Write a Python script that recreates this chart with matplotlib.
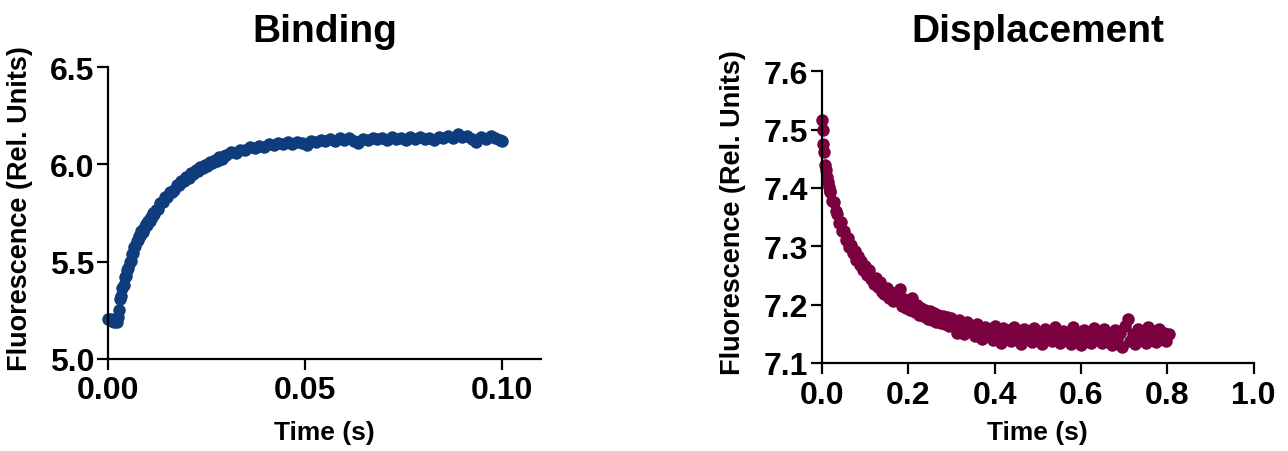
import numpy as np
import matplotlib
matplotlib.use("Agg")
import matplotlib.pyplot as plt

plt.rcParams['font.family'] = ['Liberation Sans', 'DejaVu Sans']
plt.rcParams['font.weight'] = 'bold'

# Binding trace (time in ms, fluorescence in rel. units)
bind_t_ms = [
    0.0, 0.3, 0.6, 0.9, 1.2, 1.5, 1.8, 2.1, 2.4, 2.7,
    3.0, 3.3, 3.6, 3.9, 4.2, 4.5, 4.8, 5.1, 5.4, 5.7,
    6.0, 6.3, 6.6, 6.9, 7.2, 7.5, 7.8, 8.1, 8.4, 8.7,
    9.0, 9.3, 9.6, 9.9, 10.2, 10.5, 10.8, 11.1, 11.4, 11.7,
    12.0, 12.6, 13.2, 13.8, 14.4, 15.0, 15.6, 16.2, 16.8, 17.4,
    18.0, 18.6, 19.2, 19.8, 20.4, 21.0, 21.6, 22.2, 22.8, 23.4,
    24.0, 24.6, 25.2, 25.8, 26.4, 27.0, 27.6, 28.2, 28.8, 29.4,
    30.0, 31.2, 32.4, 33.6, 34.8, 36.0, 37.2, 38.4, 39.6, 40.8,
    42.0, 43.2, 44.4, 45.6, 46.8, 48.0, 49.2, 50.4, 51.6, 52.8,
    54.0, 55.2, 56.4, 57.6, 58.8, 60.0, 61.2, 62.4, 63.6, 64.8,
    66.0, 67.2, 68.4, 69.6, 70.8, 72.0, 73.2, 74.4, 75.6, 76.8,
    78.0, 79.2, 80.4, 81.6, 82.8, 84.0, 85.2, 86.4, 87.6, 88.8,
    90.0, 91.2, 92.4, 93.6, 94.8, 96.0, 97.2, 98.4, 99.6, 100.0,
]
bind_f = [
    5.203, 5.198, 5.205, 5.196, 5.201, 5.190, 5.199, 5.186, 5.212, 5.248,
    5.305, 5.322, 5.366, 5.380, 5.418, 5.424, 5.458, 5.466, 5.497, 5.505,
    5.538, 5.546, 5.574, 5.581, 5.607, 5.609, 5.630, 5.632, 5.655, 5.651,
    5.672, 5.676, 5.694, 5.690, 5.711, 5.710, 5.731, 5.727, 5.749, 5.745,
    5.765, 5.771, 5.801, 5.805, 5.830, 5.832, 5.860, 5.858, 5.870, 5.895,
    5.893, 5.917, 5.915, 5.936, 5.932, 5.954, 5.950, 5.970, 5.966, 5.987,
    5.983, 5.998, 5.990, 6.014, 6.009, 6.024, 6.018, 6.036, 6.030, 6.045,
    6.050, 6.066, 6.060, 6.075, 6.072, 6.088, 6.084, 6.097, 6.092, 6.104,
    6.098, 6.110, 6.104, 6.114, 6.107, 6.118, 6.110, 6.102, 6.121, 6.116,
    6.128, 6.119, 6.131, 6.122, 6.134, 6.125, 6.136, 6.120, 6.112, 6.133,
    6.127, 6.138, 6.129, 6.135, 6.126, 6.140, 6.131, 6.137, 6.125, 6.139,
    6.130, 6.142, 6.133, 6.138, 6.127, 6.141, 6.134, 6.146, 6.138, 6.158,
    6.140, 6.147, 6.131, 6.118, 6.140, 6.133, 6.146, 6.137, 6.128, 6.120,
]

# Displacement trace (time in ms, fluorescence in rel. units)
disp_t_ms = [
    0, 2, 4, 6, 8, 10, 12, 14, 16, 18,
    20, 24, 28, 32, 36, 40, 44, 48, 52, 56,
    60, 64, 68, 72, 76, 80, 84, 88, 92, 96,
    100, 105, 110, 115, 120, 125, 130, 135, 140, 145,
    150, 155, 160, 165, 170, 175, 180, 185, 190, 195,
    200, 205, 210, 215, 220, 225, 230, 235, 240, 245,
    250, 255, 260, 265, 270, 275, 280, 285, 290, 295, 300,
    306, 312, 318, 324, 330, 336, 342, 348, 354, 360,
    366, 372, 378, 384, 390, 396, 402, 408, 414, 420,
    426, 432, 438, 444, 450, 456, 462, 468, 474, 480,
    486, 492, 498, 504, 510, 516, 522, 528, 534, 540,
    546, 552, 558, 564, 570, 576, 582, 588, 594, 600,
    606, 612, 618, 624, 630, 636, 642, 648, 654, 660,
    666, 672, 678, 684, 690, 696, 702, 708, 714, 720,
    726, 732, 738, 744, 750, 756, 762, 768, 774, 780,
    786, 792, 798, 804,
]
disp_f = [
    7.516, 7.500, 7.476, 7.462, 7.440, 7.431, 7.418, 7.410, 7.402, 7.393,
    7.394, 7.378, 7.376, 7.360, 7.356, 7.340, 7.341, 7.326, 7.327, 7.311,
    7.315, 7.298, 7.303, 7.288, 7.292, 7.276, 7.284, 7.268, 7.275, 7.259,
    7.266, 7.251, 7.259, 7.244, 7.236, 7.245, 7.230, 7.238, 7.222, 7.219,
    7.229, 7.212, 7.222, 7.207, 7.215, 7.219, 7.226, 7.198, 7.209, 7.194,
    7.205, 7.190, 7.212, 7.188, 7.199, 7.183, 7.195, 7.180, 7.191, 7.176,
    7.189, 7.174, 7.186, 7.170, 7.183, 7.168, 7.181, 7.166, 7.178, 7.164, 7.177,
    7.168, 7.152, 7.174, 7.160, 7.149, 7.170, 7.156, 7.163, 7.146, 7.166,
    7.152, 7.141, 7.162, 7.150, 7.158, 7.139, 7.163, 7.147, 7.135, 7.160,
    7.149, 7.156, 7.137, 7.162, 7.145, 7.152, 7.133, 7.158, 7.143, 7.150,
    7.136, 7.160, 7.142, 7.151, 7.132, 7.159, 7.144, 7.153, 7.137, 7.162,
    7.146, 7.134, 7.155, 7.141, 7.149, 7.133, 7.161, 7.143, 7.152, 7.131,
    7.157, 7.140, 7.148, 7.135, 7.160, 7.142, 7.150, 7.134, 7.158, 7.139,
    7.147, 7.130, 7.156, 7.141, 7.151, 7.128, 7.163, 7.176, 7.137, 7.149,
    7.133, 7.158, 7.140, 7.150, 7.134, 7.161, 7.139, 7.154, 7.136, 7.159,
    7.142, 7.152, 7.138, 7.150,
]

bind_xticks = [0.00, 0.05, 0.10]
bind_yticks = [5.0, 5.5, 6.0, 6.5]
disp_xticks = [0.0, 0.2, 0.4, 0.6, 0.8, 1.0]
disp_yticks = [7.1, 7.2, 7.3, 7.4, 7.5, 7.6]

BLUE = '#0e3c7c'
MAROON = '#7a0040'


def style_axes(ax, xticks, yticks, xfmt, yfmt, xlim, ylim):
    ax.set_xlim(*xlim)
    ax.set_ylim(*ylim)
    ax.set_xticks(xticks)
    ax.set_yticks(yticks)
    ax.set_xticklabels([xfmt.format(v) for v in xticks])
    ax.set_yticklabels([yfmt.format(v) for v in yticks])
    for side in ('top', 'right'):
        ax.spines[side].set_visible(False)
    for side in ('left', 'bottom'):
        ax.spines[side].set_linewidth(1.6)
    ax.tick_params(direction='out', length=8, width=1.6, labelsize=23)
    ax.tick_params(axis='x', pad=4)
    ax.tick_params(axis='y', pad=2)
    for lab in ax.get_xticklabels() + ax.get_yticklabels():
        lab.set_fontweight('bold')


fig = plt.figure(figsize=(12.88, 4.52), dpi=100)
ax1 = fig.add_axes([0.0841, 0.2044, 0.3359, 0.6443])
ax2 = fig.add_axes([0.6380, 0.1947, 0.3354, 0.6453])

ax1.plot(np.array(bind_t_ms) / 1000, bind_f, 'o', color=BLUE, markersize=9,
         markeredgewidth=0, clip_on=False)
style_axes(ax1, bind_xticks, bind_yticks, '{:.2f}', '{:.1f}', (0, 0.11), (5.0, 6.5))

ax2.plot(np.array(disp_t_ms) / 1000, disp_f, 'o', color=MAROON, markersize=9,
         markeredgewidth=0, clip_on=False)
style_axes(ax2, disp_xticks, disp_yticks, '{:.1f}', '{:.1f}', (0, 1.0), (7.1, 7.6))

for ax, title, ty in ((ax1, 'Binding', 1.092), (ax2, 'Displacement', 1.104)):
    ax.text(0.5, ty, title, transform=ax.transAxes, ha='center', va='baseline',
            fontsize=28, fontweight='bold')
    ax.set_xlabel('Time (s)', fontsize=19, fontweight='bold')
    ax.set_ylabel('Fluorescence (Rel. Units)', fontsize=19.5, fontweight='bold')

ax1.xaxis.set_label_coords(0.5, -0.21)
ax2.xaxis.set_label_coords(0.5, -0.195)
ax1.yaxis.set_label_coords(-0.174, 0.52)
ax2.yaxis.set_label_coords(-0.175, 0.52)

fig.savefig('out.png', dpi=100)
